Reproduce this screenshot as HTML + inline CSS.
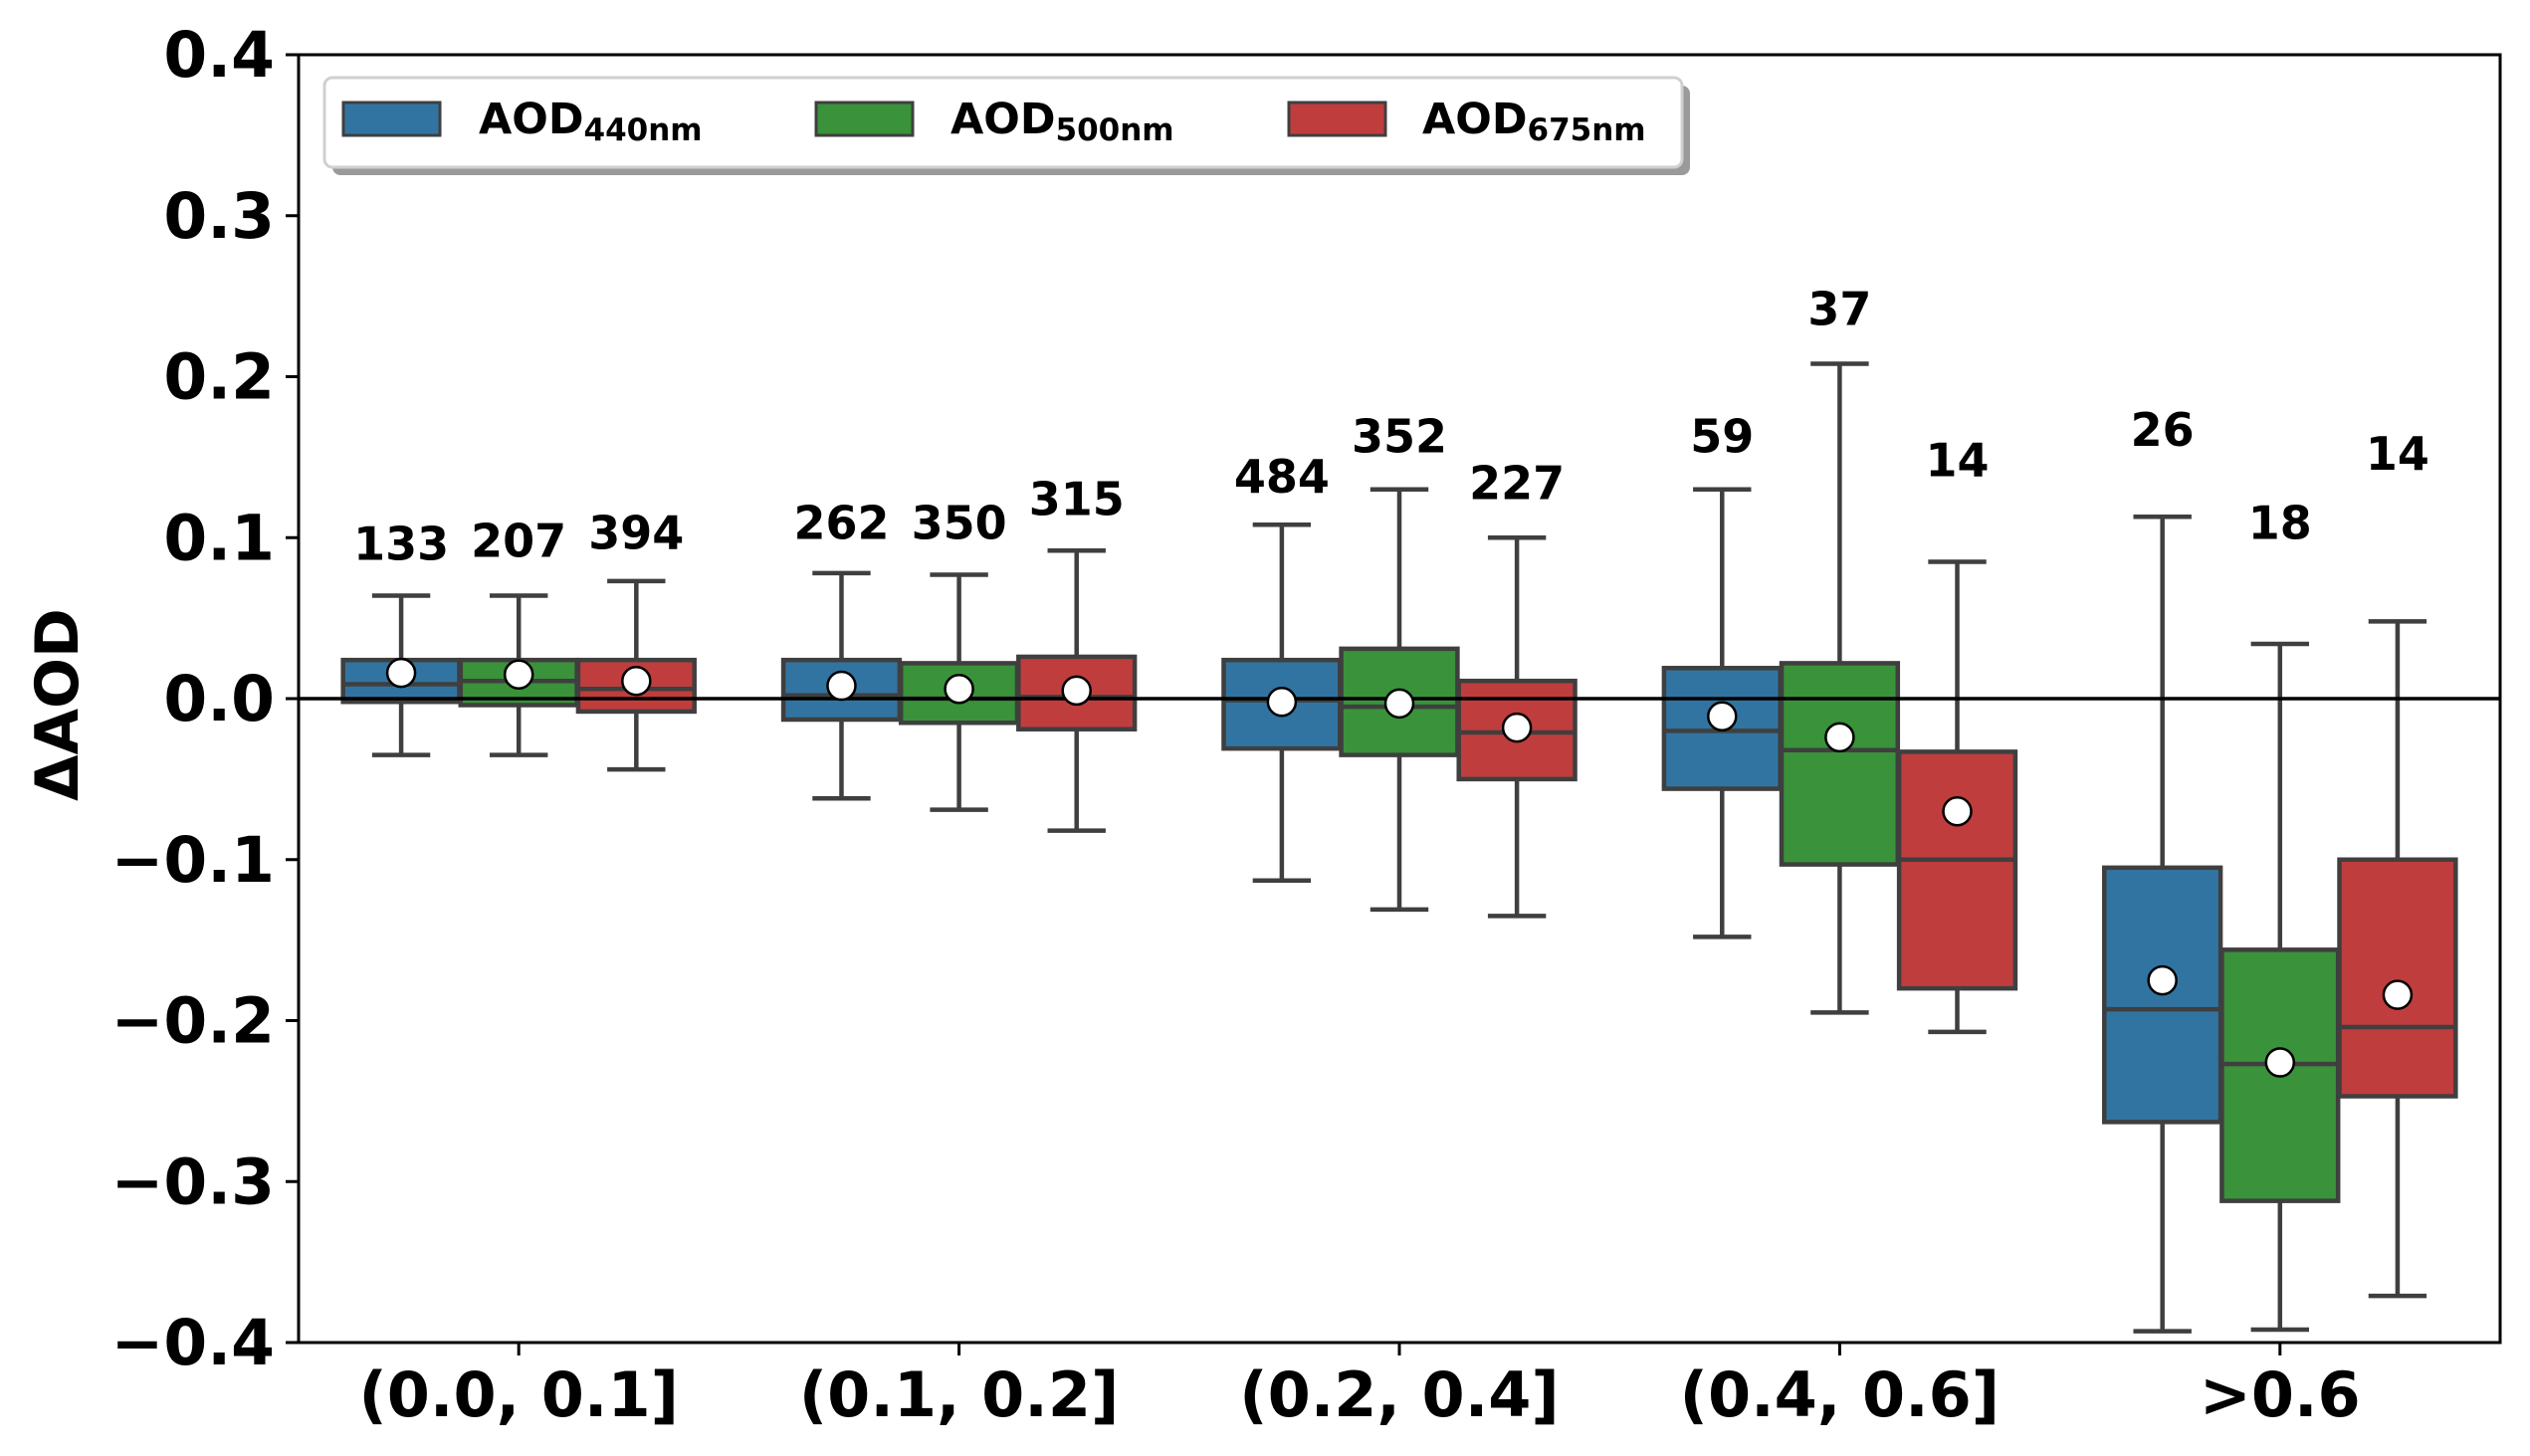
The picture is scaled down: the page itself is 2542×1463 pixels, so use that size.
<!DOCTYPE html>
<html><head><meta charset="utf-8"><style>
html,body{margin:0;padding:0;background:#fff;}
svg{display:block;font-family:"DejaVu Sans","Liberation Sans",sans-serif;font-weight:bold;}
</style></head><body>
<svg id="chart" width="2542" height="1463" viewBox="0 0 2542 1463" xmlns="http://www.w3.org/2000/svg">
<rect x="0" y="0" width="2542" height="1463" fill="#fff"/>
<g id="plot"></g>
<g id="legend">
  <rect x="334" y="86" width="1364" height="90" rx="8" fill="#9a9a9a"/>
  <rect x="326" y="78" width="1364" height="90" rx="8" fill="#fff" stroke="#d0d0d0" stroke-width="3"/>
  <g>
    <rect x="345" y="103" width="97" height="33" fill="#3274a1" stroke="#3f3f3f" stroke-width="3"/>
    <text x="481" y="134" font-size="43">AOD<tspan font-size="31" dy="7">440nm</tspan></text>
  </g>
  <g>
    <rect x="820" y="103" width="97" height="33" fill="#3a923a" stroke="#3f3f3f" stroke-width="3"/>
    <text x="955" y="134" font-size="43">AOD<tspan font-size="31" dy="7">500nm</tspan></text>
  </g>
  <g>
    <rect x="1295" y="103" width="97" height="33" fill="#c03d3e" stroke="#3f3f3f" stroke-width="3"/>
    <text x="1429" y="134" font-size="43">AOD<tspan font-size="31" dy="7">675nm</tspan></text>
  </g>
</g>
</svg>
<script>
const categories = ["(0.0, 0.1]","(0.1, 0.2]","(0.2, 0.4]","(0.4, 0.6]",">0.6"];
const seriesNames = ["AOD440nm","AOD500nm","AOD675nm"];
const yTicks = [0.4,0.3,0.2,0.1,0.0,-0.1,-0.2,-0.3,-0.4];
const yTickLabels = ["0.4","0.3","0.2","0.1","0.0","\u22120.1","\u22120.2","\u22120.3","\u22120.4"];
const whiskHi = [[0.064,0.078,0.108,0.130,0.113],[0.064,0.077,0.130,0.208,0.034],[0.073,0.092,0.100,0.085,0.048]];
const q3 = [[0.024,0.024,0.024,0.019,-0.105],[0.024,0.022,0.031,0.022,-0.156],[0.024,0.026,0.011,-0.033,-0.100]];
const median = [[0.009,0.002,-0.001,-0.020,-0.193],[0.011,0.000,-0.005,-0.032,-0.227],[0.006,0.001,-0.021,-0.100,-0.204]];
const q1 = [[-0.002,-0.013,-0.031,-0.056,-0.263],[-0.004,-0.015,-0.035,-0.103,-0.312],[-0.008,-0.019,-0.050,-0.180,-0.247]];
const whiskLo = [[-0.035,-0.062,-0.113,-0.148,-0.393],[-0.035,-0.069,-0.131,-0.195,-0.392],[-0.044,-0.082,-0.135,-0.207,-0.371]];
const means = [[0.016,0.008,-0.002,-0.011,-0.175],[0.015,0.006,-0.003,-0.024,-0.226],[0.011,0.005,-0.018,-0.070,-0.184]];
const counts = [[133,262,484,59,26],[207,350,352,37,18],[394,315,227,14,14]];
const countLabelY = [[0.096,0.109,0.138,0.163,0.167],[0.098,0.109,0.163,0.242,0.109],[0.103,0.124,0.134,0.148,0.152]];

const colors = ["#3274a1","#3a923a","#c03d3e"];
const L=300,R=2512,T=55,B=1349;
const yMin=-0.4,yMax=0.4;
const y = v => B - (v - yMin)/(yMax-yMin)*(B-T);
const groupW = (R-L)/categories.length;
const xc = i => L + groupW*(i+0.5);
const boxW = groupW*0.264, off = groupW*0.267;
const xs = (i,s) => xc(i) + (s-1)*off;
const NS="http://www.w3.org/2000/svg";
const plot=document.getElementById('plot');
function mk(tag,attrs,parent){const e=document.createElementNS(NS,tag);for(const k in attrs)e.setAttribute(k,attrs[k]);(parent||plot).appendChild(e);return e;}

const frame=mk('rect',{x:L,y:T,width:R-L,height:B-T,fill:'none',stroke:'#000','stroke-width':3});


yTicks.forEach((v,k)=>{
  const t=mk('line',{x1:L-13,x2:L,y1:y(v),y2:y(v),stroke:'#000','stroke-width':3});
  
  
  const tx=mk('text',{x:L-24,y:y(v)+22,'text-anchor':'end','font-size':63});
  tx.textContent=yTickLabels[k];
  
  
});
categories.forEach((c,i)=>{
  const t=mk('line',{x1:xc(i),x2:xc(i),y1:B,y2:B+13,stroke:'#000','stroke-width':3});
  
  
  const tx=mk('text',{x:xc(i),y:B+74,'text-anchor':'middle','font-size':62});
  tx.textContent=c;
  
  
});
const yt=mk('text',{x:0,y:0,'text-anchor':'middle','font-size':60,transform:`translate(78,${y(0)+6}) rotate(-90)`});
yt.textContent='\u0394AOD';



const lc='#3f3f3f', lw=4.5;
for(let s=0;s<3;s++){
  for(let i=0;i<categories.length;i++){
    const g=mk('g',{});
    
    
    const x=xs(i,s);
    mk('line',{x1:x,x2:x,y1:y(whiskHi[s][i]),y2:y(q3[s][i]),stroke:lc,'stroke-width':lw},g);
    mk('line',{x1:x,x2:x,y1:y(q1[s][i]),y2:y(whiskLo[s][i]),stroke:lc,'stroke-width':lw},g);
    mk('line',{x1:x-boxW/4,x2:x+boxW/4,y1:y(whiskHi[s][i]),y2:y(whiskHi[s][i]),stroke:lc,'stroke-width':lw},g);
    mk('line',{x1:x-boxW/4,x2:x+boxW/4,y1:y(whiskLo[s][i]),y2:y(whiskLo[s][i]),stroke:lc,'stroke-width':lw},g);
    mk('rect',{x:x-boxW/2,y:y(q3[s][i]),width:boxW,height:y(q1[s][i])-y(q3[s][i]),fill:colors[s],stroke:lc,'stroke-width':lw},g);
    mk('line',{x1:x-boxW/2,x2:x+boxW/2,y1:y(median[s][i]),y2:y(median[s][i]),stroke:lc,'stroke-width':lw},g);
  }
}
const z=mk('line',{x1:L,x2:R,y1:y(0),y2:y(0),stroke:'#000','stroke-width':3.5});


for(let s=0;s<3;s++){
  for(let i=0;i<categories.length;i++){
    const m=mk('circle',{cx:xs(i,s),cy:y(means[s][i]),r:14,fill:'#fff',stroke:'#000','stroke-width':2.5});
    
    
    const t=mk('text',{x:xs(i,s),y:y(countLabelY[s][i])+16,'text-anchor':'middle','font-size':46});
    t.textContent=counts[s][i];
    
    
  }
}
</script>
</body></html>
